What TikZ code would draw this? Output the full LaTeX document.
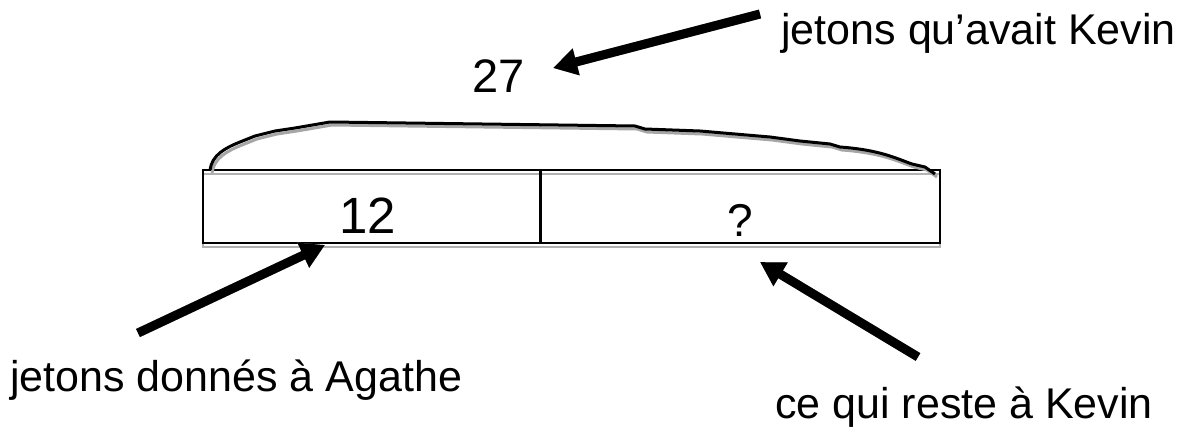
\documentclass[tikz,border=0pt]{standalone}
\usepackage{fontspec}
\setmainfont{Liberation Sans}
\usetikzlibrary{arrows.meta}
\tikzset{
  lbl/.style={inner sep=0pt, font=\fontsize{43}{48}\selectfont},
  fat/.style={line width=9pt, -{Triangle[length=24pt,width=26pt]}},
  shad/.style={gray!80, shift={(4pt,-4pt)}},
  frame/.style={line width=2.2pt},
}
\begin{document}
\begin{tikzpicture}[x=1pt,y=-1pt]
\useasboundingbox (0,0) rectangle (1193,426);
% box
\draw[frame, gray!60] (203,174) rectangle (940,247);
\draw[frame] (203,170) rectangle (940,243);
\draw[line width=3pt] (540,170) -- (540,243);
% brace curve
\def\bracepath{(210,170) .. controls (212,155) and (225,148) .. (240,142)
  -- (255,136) -- (275,131) -- (295,128) -- (330,122) -- (635,126) -- (645,129)
  -- (700,131) -- (770,137) -- (800,141) -- (830,144) -- (840,147)
  .. controls (880,150) and (895,158) .. (912,164) -- (925,167) -- (935,174)}
\draw[line width=3pt, gray!70, shift={(2pt,-3pt)}] \bracepath;
\draw[line width=3pt] \bracepath;
% texts
\node[lbl, font=\fontsize{51}{56}\selectfont] (n12) at (368,216) {12};
\node[lbl, font=\fontsize{46}{50}\selectfont] (q) at (740,220) {?};
\node[lbl, font=\fontsize{47}{52}\selectfont] (n27) at (499,76) {27};
\node[lbl, anchor=east] (kevin) at (1176,33) {jetons qu’avait Kevin};
\node[lbl, anchor=west] (agathe) at (10,380) {jetons donnés à Agathe};
\node[lbl, anchor=west] (reste) at (775,407) {ce qui reste à Kevin};
% arrow endpoints
\coordinate (a1s) at (760,14);
\coordinate (a1e) at (553,68);
\coordinate (a2s) at (138,333);
\coordinate (a2e) at (325,245);
\coordinate (a3s) at (918,357);
\coordinate (a3e) at (760,262);
\foreach \s/\e in {a1s/a1e, a2s/a2e, a3s/a3e}{
  \draw[fat, shad] (\s) -- (\e);
  \draw[fat] (\s) -- (\e);
}
\end{tikzpicture}
\end{document}
